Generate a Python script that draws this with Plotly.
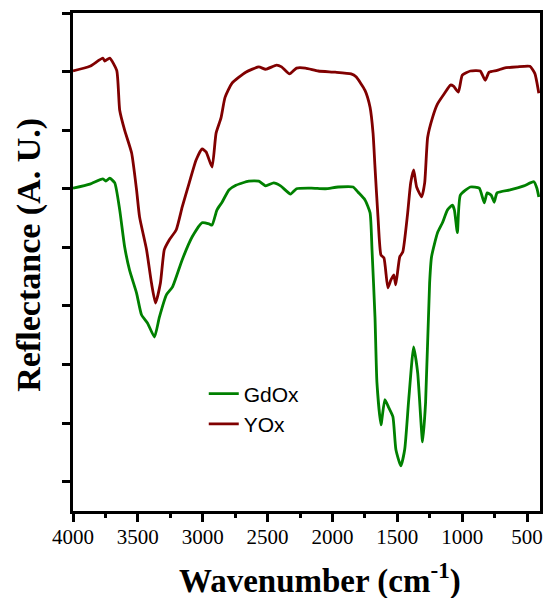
import plotly.graph_objects as go

# YOx spectrum (wavenumber, reflectance a.u.)
yox_wn = [4000, 3870, 3770, 3755, 3717, 3663, 3640, 3602, 3548, 3510, 3487, 3433, 3395, 3364,
          3326, 3296, 3257, 3204, 3158, 3104, 3051, 3005, 2974, 2928, 2897, 2859, 2828, 2775,
          2668, 2568, 2515, 2430, 2392, 2331, 2277, 2208, 2109, 1979, 1856, 1818, 1749, 1710,
          1687, 1672, 1649, 1626, 1603, 1573, 1550, 1527, 1512, 1481, 1458, 1420, 1397, 1374,
          1351, 1312, 1289, 1266, 1228, 1190, 1136, 1090, 1067, 1029, 999, 937, 861, 822, 792,
          731, 677, 577, 478, 440, 409]
yox_r = [7.01, 7.09, 7.23, 7.18, 7.23, 7.02, 6.34, 6.00, 5.61, 4.98, 4.52, 3.96, 3.39, 3.05,
         3.39, 3.96, 4.13, 4.30, 4.69, 5.10, 5.49, 5.68, 5.63, 5.37, 5.95, 6.21, 6.56, 6.80,
         6.99, 7.08, 7.04, 7.11, 7.08, 6.96, 7.06, 7.06, 7.01, 6.99, 6.96, 6.91, 6.68, 6.39,
         5.95, 5.37, 4.52, 3.87, 3.82, 3.31, 3.44, 3.53, 3.36, 3.84, 3.92, 4.59, 5.10, 5.32,
         5.03, 4.86, 5.10, 5.88, 6.22, 6.45, 6.63, 6.77, 6.75, 6.65, 6.94, 7.01, 7.01, 6.85, 6.99,
         7.02, 7.06, 7.08, 7.09, 6.97, 6.63]

# GdOx spectrum
gdox_wn = [4000, 3870, 3770, 3747, 3717, 3678, 3640, 3602, 3564, 3510, 3472, 3426, 3372, 3334,
           3280, 3234, 3158, 3081, 3005, 2951, 2928, 2890, 2851, 2798, 2744, 2645, 2568, 2515,
           2453, 2400, 2323, 2277, 2162, 2055, 1956, 1841, 1802, 1749, 1710, 1695, 1672, 1657,
           1626, 1596, 1565, 1534, 1511, 1473, 1443, 1412, 1374, 1343, 1305, 1282, 1251, 1236,
           1190, 1152, 1113, 1075, 1060, 1037, 1014, 937, 868, 830, 807, 776, 753, 731, 631,
           524, 447, 424, 409]
gdox_r = [5.01, 5.08, 5.17, 5.13, 5.18, 5.10, 4.64, 4.01, 3.61, 3.22, 2.85, 2.71, 2.47, 2.81,
          3.19, 3.32, 3.79, 4.18, 4.42, 4.40, 4.38, 4.64, 4.77, 4.98, 5.06, 5.13, 5.13, 5.05,
          5.10, 5.05, 4.91, 5.00, 5.01, 5.00, 5.03, 5.03, 4.94, 4.81, 4.59, 3.96, 2.81, 1.69,
          0.97, 1.40, 1.26, 1.11, 0.55, 0.27, 0.55, 1.40, 2.30, 1.86, 0.68, 1.35, 3.39, 3.84,
          4.25, 4.42, 4.64, 4.72, 4.64, 4.25, 4.89, 5.03, 5.01, 4.76, 4.93, 4.89, 4.77, 4.93, 4.98,
          5.05, 5.12, 5.01, 4.86]

x_ticks = [4000, 3500, 3000, 2500, 2000, 1500, 1000, 500]

fig = go.Figure()
fig.add_trace(go.Scatter(x=gdox_wn, y=gdox_r, mode="lines", name="GdOx",
                         line=dict(color="#008000", width=2.8, shape="spline", smoothing=0.5)))
fig.add_trace(go.Scatter(x=yox_wn, y=yox_r, mode="lines", name="YOx",
                         line=dict(color="#800000", width=2.8, shape="spline", smoothing=0.5)))

serif = "Liberation Serif"
fig.update_layout(
    width=551, height=598,
    margin=dict(l=73, r=8, t=13, b=87),
    paper_bgcolor="white", plot_bgcolor="white",
    showlegend=True,
    legend=dict(x=0.28, y=0.205, xanchor="left", yanchor="middle",
                font=dict(family="Liberation Sans", size=21, color="black"),
                bgcolor="rgba(0,0,0,0)", tracegroupgap=0, itemwidth=30),
    xaxis=dict(range=[4000, 400], tickvals=x_ticks, ticks="outside", ticklen=8, tickwidth=2.5,
               tickcolor="black", showline=True, linewidth=3, linecolor="black", mirror=True,
               showgrid=False, zeroline=False, ticklabelstandoff=-3,
               minor=dict(dtick=250, ticks="outside", ticklen=4, tickwidth=2.5, tickcolor="black",
                          showgrid=False),
               tickfont=dict(family=serif, size=21, color="black")),
    yaxis=dict(range=[-0.5, 8], dtick=1, tick0=0, ticks="outside", ticklen=8, tickwidth=2.5,
               tickcolor="black", showticklabels=False, showline=True, linewidth=3,
               linecolor="black", mirror=True, showgrid=False, zeroline=False),
    annotations=[
        dict(text="<b>Wavenumber (cm<sup>-1</sup>)</b>", xref="paper", yref="paper",
             x=0.528, y=-0.135, xanchor="center", yanchor="middle", showarrow=False,
             font=dict(family=serif, size=33, color="black")),
        dict(text="<b>Reflectance (A. U.)</b>", xref="paper", yref="paper",
             x=-0.096, y=0.515, xanchor="center", yanchor="middle", showarrow=False,
             textangle=-90, font=dict(family=serif, size=34, color="black")),
    ],
)

fig.write_html("out.html")
